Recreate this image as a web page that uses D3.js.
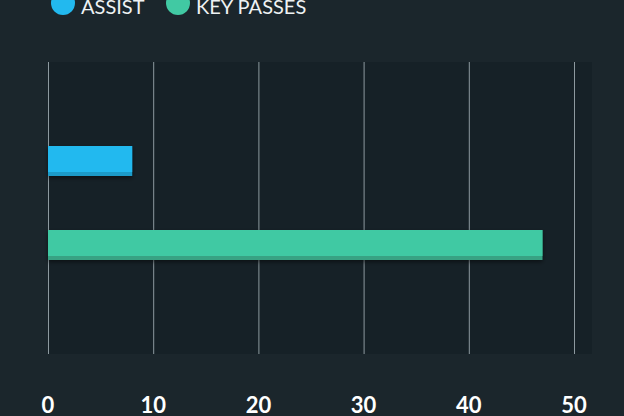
<!DOCTYPE html>
<html>
<head>
<meta charset="utf-8">
<script src="https://cdn.jsdelivr.net/npm/d3@7"></script>
<style>
  html, body { margin: 0; padding: 0; background: #1b262c; }
  svg { display: block; }
</style>
</head>
<body>
<div id="chart"></div>
<script>
// chart data
var categories = ["ASSIST", "KEY PASSES"];
var values = [8, 47];
var colors = ["#22b9ef", "#41c9a3"];
var shades = ["#1d9bc9", "#37a283"];
var ticks = [0, 10, 20, 30, 40, 50];

window.onload = () => {
  var width = 624,
      height = 416;

  var svg = d3.select("#chart").append("svg")
    .attr("width", width)
    .attr("height", height);

  var defs = svg.append("defs");
  var shadow = defs.append("filter")
    .attr("id", "shadow")
    .attr("x", "-10%").attr("y", "-40%")
    .attr("width", "120%").attr("height", "180%");
  shadow.append("feDropShadow")
    .attr("dx", 0).attr("dy", 2)
    .attr("stdDeviation", 2)
    .attr("flood-color", "#000")
    .attr("flood-opacity", 0.5);

  var x = d3.scaleLinear()
    .domain([0, 50])
    .range([48, 574]);

  var y = d3.scaleBand()
    .domain(categories)
    .range([62, 344])
    .paddingInner(0.643)
    .paddingOuter(1);

  // plot background
  svg.append("rect")
    .attr("x", 48)
    .attr("y", 62)
    .attr("width", 592 - 48)
    .attr("height", 354 - 62)
    .attr("fill", "#162127");

  // gridlines
  svg.selectAll(".grid")
    .data(ticks)
    .enter().append("line")
    .attr("class", "grid")
    .attr("x1", d => x(d) + 0.5)
    .attr("x2", d => x(d) + 0.5)
    .attr("y1", 62)
    .attr("y2", 354)
    .attr("stroke", "#8d999f")
    .attr("stroke-width", 1);

  // bars
  var bars = svg.selectAll(".bar")
    .data(categories)
    .enter().append("g")
    .attr("class", "bar")
    .attr("filter", "url(#shadow)");

  bars.append("rect")
    .attr("x", x(0))
    .attr("y", d => y(d))
    .attr("width", (d, i) => x(values[i]) - x(0))
    .attr("height", y.bandwidth())
    .attr("fill", (d, i) => shades[i]);

  bars.append("rect")
    .attr("x", x(0))
    .attr("y", d => y(d))
    .attr("width", (d, i) => x(values[i]) - x(0))
    .attr("height", y.bandwidth() - 4)
    .attr("fill", (d, i) => colors[i]);

  // x tick labels
  svg.selectAll(".tick-label")
    .data(ticks)
    .enter().append("text")
    .attr("class", "tick-label")
    .attr("x", d => x(d))
    .attr("y", 413)
    .attr("text-anchor", "middle")
    .attr("font-family", "Lato, sans-serif")
    .attr("font-weight", "bold")
    .attr("font-size", 22)
    .attr("fill", "#ffffff")
    .text(d => d);

  // legend
  var legendX = [63, 178];
  var legend = svg.selectAll(".legend")
    .data(categories)
    .enter().append("g")
    .attr("class", "legend")
    .attr("transform", (d, i) => "translate(" + legendX[i] + ",3)");

  legend.append("circle")
    .attr("r", 12)
    .attr("fill", (d, i) => colors[i]);

  legend.append("text")
    .attr("x", 18)
    .attr("y", 11)
    .attr("font-family", "Lato, sans-serif")
    .attr("font-size", 20)
    .attr("fill", "#eef2f3")
    .text(d => d);
}
</script>
</body>
</html>
